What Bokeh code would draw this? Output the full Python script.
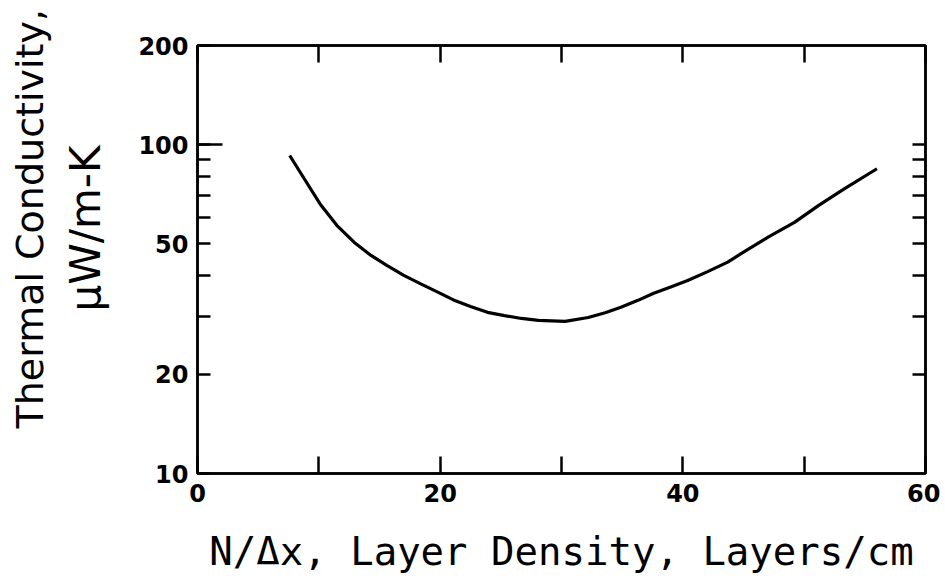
from bokeh.plotting import figure
from bokeh.models import (FixedTicker, LinearAxis, LogAxis, Range1d, Title,
                          PrintfTickFormatter)
from bokeh.embed import file_html
from bokeh.resources import INLINE

# Data
layer_density = [7.6, 8.8, 10.1, 11.5, 12.9, 14.3, 15.6, 17.0, 18.4, 19.8, 21.1,
                 22.5, 23.9, 25.3, 26.7, 28.1, 30.3, 32.2, 33.6, 34.9, 36.3,
                 37.6, 39.0, 40.4, 42.0, 43.7, 45.0, 47.1, 49.2, 51.2, 53.3, 56.0]
conductivity = [92.6, 78.7, 66.0, 56.7, 50.5, 46.0, 42.9, 40.0, 37.7, 35.6, 33.7,
                32.2, 30.9, 30.2, 29.6, 29.2, 29.0, 29.8, 30.8, 32.0, 33.6,
                35.3, 36.9, 38.6, 41.0, 43.9, 47.1, 52.5, 58.0, 65.3, 73.3, 84.4]

x_major = [0, 20, 40, 60]
x_minor = [10, 30, 50]
y_major = [10, 20, 50, 100, 200]
y_minor = [30, 40, 60, 70, 80, 90]
y_long = [100]
y_right = [20, 30, 40, 50, 60, 70, 80, 90, 100]

x_title = "N/\u0394x, Layer Density, Layers/cm"
y_title_1 = "Thermal Conductivity,"
y_title_2 = "\u03bcW/m-K"

W, H = 940, 578
p = figure(width=W, height=H, output_backend="svg", toolbar_location=None,
           y_axis_type="log", x_axis_location=None, y_axis_location=None,
           x_range=Range1d(0, 60), y_range=Range1d(10, 200),
           min_border_left=197, min_border_right=W - 925, min_border_top=45,
           min_border_bottom=H - 473)
p.xgrid.visible = False
p.ygrid.visible = False
p.outline_line_color = "black"
p.outline_line_width = 2.5
p.background_fill_color = "white"
p.border_fill_color = "white"

TICK_FONT = "DejaVu Sans"


def blank(ticks):
    return {t: "" for t in ticks}


# bottom axis
bx = LinearAxis(ticker=FixedTicker(ticks=x_major, minor_ticks=x_minor))
bx.major_tick_in = 17
bx.major_tick_out = 0
bx.minor_tick_in = 17
bx.minor_tick_out = 0
bx.major_tick_line_width = 2.5
bx.minor_tick_line_width = 2.5
bx.axis_line_width = 2.5
bx.major_label_text_font = TICK_FONT
bx.major_label_text_font_style = "bold"
bx.major_label_text_font_size = "24px"
bx.major_label_text_color = "black"
bx.major_label_standoff = 10
bx.axis_label = x_title
bx.axis_label_text_font = "DejaVu Sans Mono"
bx.axis_label_text_font_style = "normal"
bx.axis_label_text_font_size = "39px"
bx.axis_label_text_color = "black"
bx.axis_label_standoff = 24
p.add_layout(bx, "below")

# top axis
tx = LinearAxis(ticker=FixedTicker(ticks=x_major, minor_ticks=x_minor))
tx.major_tick_in = 17
tx.major_tick_out = 0
tx.minor_tick_in = 17
tx.minor_tick_out = 0
tx.major_tick_line_width = 2.5
tx.minor_tick_line_width = 2.5
tx.axis_line_width = 2.5
tx.major_label_overrides = blank(x_major)
tx.major_label_standoff = 0
p.add_layout(tx, "above")

# inner left axis: long tick at 100
lx0 = LogAxis(ticker=FixedTicker(ticks=y_long, minor_ticks=[]))
lx0.major_tick_in = 25
lx0.major_tick_out = 0
lx0.major_tick_line_width = 2.5
lx0.axis_line_width = 2.5
lx0.major_label_overrides = blank(y_long)
lx0.major_label_standoff = 0
p.add_layout(lx0, "left")

# labelled left axis
lx = LogAxis(ticker=FixedTicker(ticks=y_major, minor_ticks=y_minor),
             formatter=PrintfTickFormatter(format="%d"))
lx.major_tick_in = 13
lx.major_tick_out = 0
lx.minor_tick_in = 13
lx.minor_tick_out = 0
lx.major_tick_line_width = 2.5
lx.minor_tick_line_width = 2.5
lx.axis_line_color = None
lx.major_label_text_font = TICK_FONT
lx.major_label_text_font_style = "bold"
lx.major_label_text_font_size = "24px"
lx.major_label_text_color = "black"
lx.major_label_standoff = 9
p.add_layout(lx, "left")

# right axis
rx = LogAxis(ticker=FixedTicker(ticks=y_right, minor_ticks=[]))
rx.major_tick_in = 13
rx.major_tick_out = 0
rx.major_tick_line_width = 2.5
rx.axis_line_width = 2.5
rx.major_label_overrides = blank(y_right)
rx.major_label_standoff = 0
p.add_layout(rx, "right")

p.line(layer_density, conductivity, line_color="black", line_width=3.2)

t2 = Title(text=y_title_2, align="left", offset=162, standoff=52,
           text_font="DejaVu Sans", text_font_size="42px",
           text_font_style="normal", text_color="black")
t1 = Title(text=y_title_1, align="left", offset=45, standoff=-38,
           text_font="DejaVu Sans", text_font_size="38px",
           text_font_style="normal", text_color="black")
p.add_layout(t2, "left")
p.add_layout(t1, "left")

open("out.html", "w").write(file_html(p, INLINE))
